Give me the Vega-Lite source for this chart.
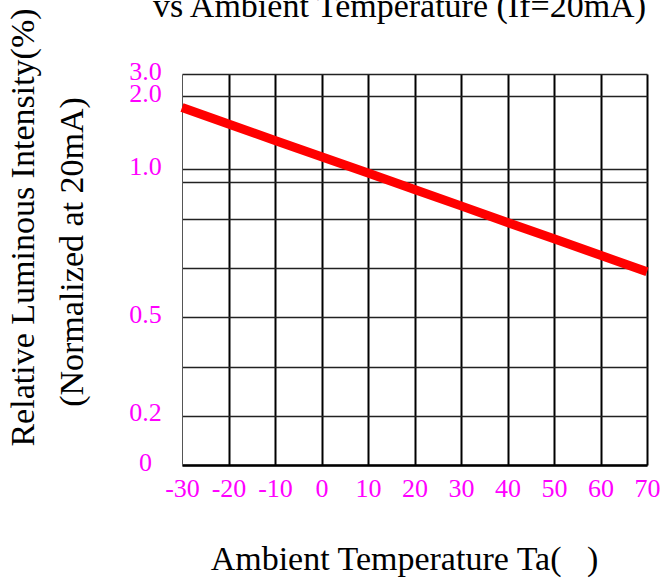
{
  "$schema": "https://vega.github.io/schema/vega-lite/v6.json",
  "width": 465,
  "height": 391,
  "autosize": "none",
  "padding": {"left": 182, "top": 74, "right": 16, "bottom": 114},
  "background": "white",
  "config": {
    "view": {"stroke": null},
    "font": "Liberation Serif",
    "axis": {"titleFont": "Liberation Serif", "labelFont": "Liberation Serif", "titleFontWeight": "normal", "titleColor": "black", "titleFontSize": 34}
  },
  "data": {
    "values": [
      {"t": -30, "ri": 1.842},
      {"t": -20, "ri": 1.618},
      {"t": -10, "ri": 1.394},
      {"t": 0, "ri": 1.171},
      {"t": 10, "ri": 0.987},
      {"t": 20, "ri": 0.931},
      {"t": 30, "ri": 0.876},
      {"t": 40, "ri": 0.82},
      {"t": 50, "ri": 0.765},
      {"t": 60, "ri": 0.709},
      {"t": 70, "ri": 0.653}
    ]
  },
  "layer": [
    {
      "mark": {"type": "line", "color": "#ff0000", "strokeWidth": 9, "strokeCap": "butt"},
      "encoding": {
        "x": {
          "field": "t", "type": "quantitative",
          "scale": {"domain": [-30, 70], "nice": false, "zero": false},
          "axis": {
            "values": [-30, -20, -10, 0, 10, 20, 30, 40, 50, 60, 70],
            "labelExpr": "'' + datum.value",
            "labelColor": "#ff00ff", "labelFontSize": 26,
            "labelAlign": "center", "labelBaseline": "alphabetic", "labelPadding": 31,
            "labelFlush": false, "labelOverlap": false, "labelBound": false,
            "ticks": false, "tickSize": 0,
            "grid": true, "gridColor": "#000000", "gridWidth": 2,
            "gridOpacity": {"condition": {"test": "datum.value === -30", "value": 0}, "value": 1},
            "domainColor": "#000000", "domainWidth": 2.5,
            "title": "Ambient Temperature Ta(\u00a0\u00a0\u00a0)",
            "titleX": 222, "titleY": 104, "titleAlign": "center", "titleBaseline": "alphabetic", "titleAngle": 0
          }
        },
        "y": {
          "field": "ri", "type": "quantitative",
          "scale": {
            "domain": [0, 0.2, 0.35, 0.5, 0.667, 0.833, 0.955, 1, 2, 3],
            "range": [391, 341.7, 292.7, 243, 193.7, 144.7, 108.3, 95.3, 22, 0],
            "nice": false, "zero": false
          },
          "axis": {
            "values": [0, 0.2, 0.35, 0.5, 0.667, 0.833, 0.955, 1, 2, 3],
            "labelExpr": "datum.value == 0 ? '0' : (indexof([0.2, 0.5, 1, 2, 3], datum.value) >= 0 ? format(datum.value, '.1f') : '')",
            "labelColor": "#ff00ff", "labelFontSize": 26,
            "labelAlign": "center", "labelBaseline": "alphabetic", "labelPadding": 37, "labelOffset": 5,
            "labelOverlap": false, "labelBound": false, "labelFlush": false,
            "ticks": false, "tickSize": 0,
            "grid": true, "gridColor": "#222222", "gridWidth": 1.3,
            "domainColor": "#555555", "domainWidth": 1,
            "title": "(Normalized at 20mA)",
            "titleX": -100, "titleY": 177.5, "titleAngle": 270, "titleAlign": "center", "titleBaseline": "alphabetic"
          }
        }
      }
    },
    {
      "mark": {"type": "line", "strokeOpacity": 0},
      "encoding": {
        "x": {
          "field": "t", "type": "quantitative",
          "axis": {
            "orient": "top", "labels": false, "ticks": false, "domain": false, "grid": false,
            "title": "vs Ambient Temperature (If=20mA)",
            "titleX": 217, "titleY": -58, "titleAngle": 0, "titleAlign": "center", "titleBaseline": "alphabetic"
          }
        },
        "y": {
          "field": "ri", "type": "quantitative",
          "axis": {
            "orient": "right", "labels": false, "ticks": false, "domain": false, "grid": false,
            "title": "Relative Luminous Intensity(%)",
            "titleX": -614, "titleY": 153, "titleAngle": 270, "titleAlign": "center", "titleBaseline": "alphabetic"
          }
        }
      }
    }
  ],
  "resolve": {"axis": {"x": "independent", "y": "independent"}}
}
